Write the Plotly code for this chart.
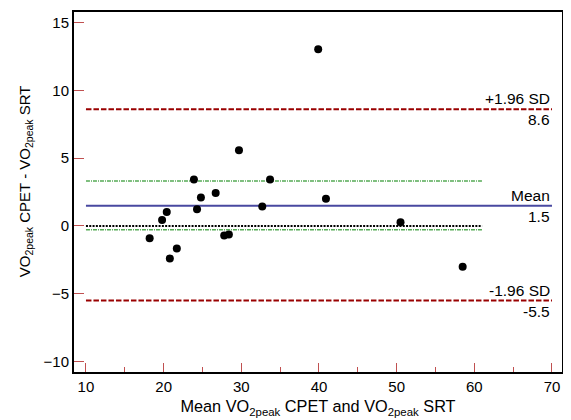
import plotly.graph_objects as go

# Data: mean of the two methods (x) and difference (y)
mean_vals = [18.2, 19.8, 20.4, 20.8, 21.7, 23.9, 24.3, 24.8, 26.7, 27.8, 28.4,
             29.7, 32.7, 33.7, 40.9, 39.9, 50.5, 58.5]
diff_vals = [-0.90, 0.45, 1.04, -2.39, -1.66, 3.42, 1.24, 2.10, 2.44, -0.70, -0.63,
             5.58, 1.43, 3.42, 2.00, 13.02, 0.28, -3.01]

mean_diff = 1.5
upper_loa = 8.6
lower_loa = -5.5
ci_upper = 3.32
ci_lower = -0.28
zero_line = 0.0

loa_x = [10, 70]
ref_x = [10, 61]

x_ticks = [10, 20, 30, 40, 50, 60, 70]
x_minor = [15, 25, 35, 45, 55, 65]
y_ticks = [-10, -5, 0, 5, 10, 15]

x_title = "Mean VO<sub>2peak</sub> CPET and VO<sub>2peak</sub> SRT"
y_title = "VO<sub>2peak</sub> CPET - VO<sub>2peak</sub> SRT"

fig = go.Figure()

# Limits of agreement
for yv in (upper_loa, lower_loa):
    fig.add_trace(go.Scatter(x=loa_x, y=[yv, yv], mode="lines",
                             line=dict(color="#990000", width=2, dash="5.5px,2px"),
                             hoverinfo="skip", showlegend=False))
# CI of mean (green dash-dot)
for yv in (ci_upper, ci_lower):
    fig.add_trace(go.Scatter(x=ref_x, y=[yv, yv], mode="lines",
                             line=dict(color="#55aa55", width=1.5, dash="4px,1px,1px,1px"),
                             hoverinfo="skip", showlegend=False))
# zero line
fig.add_trace(go.Scatter(x=ref_x, y=[zero_line, zero_line], mode="lines",
                         line=dict(color="black", width=2, dash="2px,1.3px"),
                         hoverinfo="skip", showlegend=False))
# mean line
fig.add_trace(go.Scatter(x=loa_x, y=[mean_diff, mean_diff], mode="lines",
                         line=dict(color="#4848a0", width=2),
                         hoverinfo="skip", showlegend=False))

# points
fig.add_trace(go.Scatter(x=mean_vals, y=diff_vals, mode="markers",
                         marker=dict(color="black", size=8),
                         showlegend=False))

family = "Liberation Sans, Arial, sans-serif"
font_main = dict(family=family, size=14, color="black")

labels = [
    (upper_loa, "+1.96 SD", "bottom"), (upper_loa, f"{upper_loa:.1f}", "top"),
    (mean_diff, "Mean", "bottom"), (mean_diff, f"{mean_diff:.1f}", "top"),
    (lower_loa, "-1.96 SD", "bottom"), (lower_loa, f"{lower_loa:.1f}", "top"),
]
for yv, txt, anchor in labels:
    fig.add_annotation(x=loa_x[1], y=yv, text=txt, showarrow=False,
                       xanchor="right", yanchor=anchor, xref="x", yref="y",
                       yshift=0,
                       font=dict(family=family, size=15.5, color="black"))

# y-axis title (placed slightly above plot centre, as in the reference)
fig.add_annotation(text=y_title, textangle=-90, showarrow=False,
                   xref="paper", yref="paper", x=0, y=0.53,
                   xanchor="center", yanchor="middle", xshift=-49,
                   font=dict(family=family, size=15, color="black"))

tick_col = "#c05050"

# The page body adds an 8px margin; figure is sized so page total is 571x420
fig.update_layout(
    width=563, height=412,
    margin=dict(l=66, r=9, t=4, b=48, autoexpand=False),
    plot_bgcolor="white", paper_bgcolor="white",
    font=font_main,
    xaxis=dict(range=[8.46, 71.29], tickvals=x_ticks, ticks="inside", ticklen=9,
               tickcolor=tick_col, tickwidth=1, showgrid=False, zeroline=False,
               showline=True, linecolor="black", linewidth=2, mirror=True,
               minor=dict(ticks="inside", ticklen=5, tickcolor=tick_col,
                          tickvals=x_minor, showgrid=False),
               title=dict(text=x_title, font=dict(size=16.3), standoff=7),
               tickfont=dict(size=15), automargin=False),
    yaxis=dict(range=[-10.76, 15.77], tickvals=y_ticks, ticks="inside", ticklen=10,
               tickcolor=tick_col, tickwidth=1, showgrid=False, zeroline=False,
               showline=True, linecolor="black", linewidth=2, mirror=True,
               tickfont=dict(size=15), automargin=False),
)

fig.write_html("out.html")
